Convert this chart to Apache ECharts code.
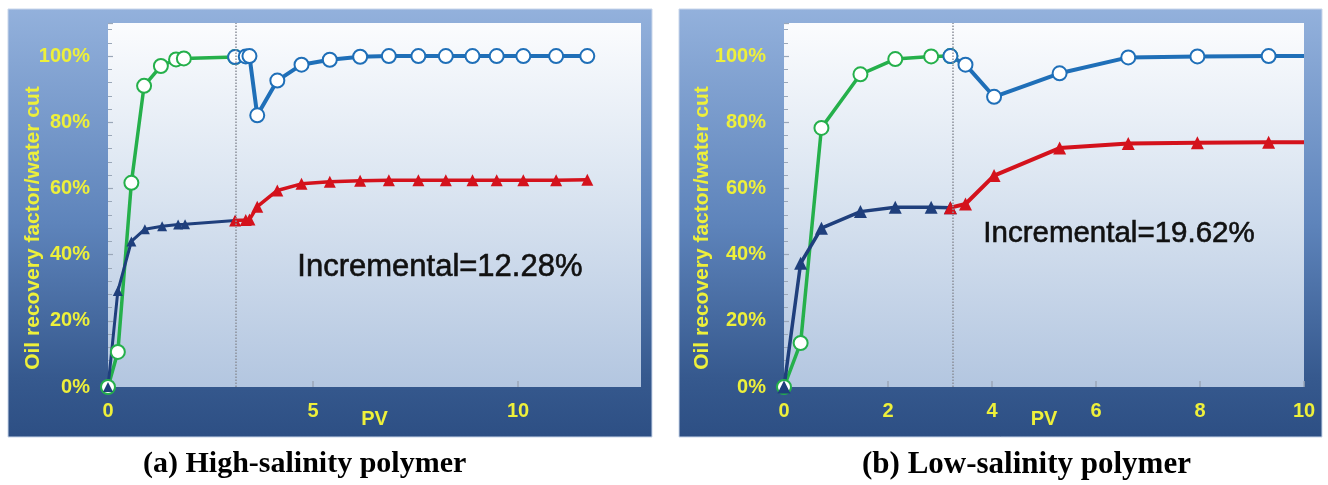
<!DOCTYPE html>
<html>
<head>
<meta charset="utf-8">
<script src="https://cdn.jsdelivr.net/npm/echarts@6/dist/echarts.min.js"></script>
<style>
html,body{margin:0;padding:0;background:#fff;}
#c{width:1328px;height:485px;}
</style>
</head>
<body>
<div id="c"></div>
<script>
// ---------- (a) High-salinity polymer ----------
const hsWaterX = [0, 0.24, 0.57, 0.88, 1.29, 1.66, 1.85, 3.10];
const hsWaterY = [0, 10.6, 61.7, 91.0, 97.0, 99.0, 99.3, 99.7];
const hsOilX   = [0, 0.24, 0.57, 0.90, 1.32, 1.71, 1.88, 3.10];
const hsOilY   = [0, 29.0, 44.0, 47.7, 48.6, 49.1, 49.2, 50.3];
const hsPolyX  = [3.10, 3.36, 3.45, 3.64, 4.13, 4.72, 5.41, 6.15, 6.85, 7.57, 8.24, 8.89, 9.48, 10.13, 10.93, 11.69];
const hsPolyWaterY = [99.7, 99.9, 100, 82.1, 92.6, 97.4, 98.9, 99.8, 100, 100, 100, 100, 100, 100, 100, 100];
const hsPolyOilY   = [50.3, 50.5, 50.6, 54.5, 59.4, 61.4, 62.0, 62.3, 62.5, 62.5, 62.5, 62.5, 62.5, 62.5, 62.5, 62.6];
const hsSwitchPV = 3.12;
const hsIncrement = 'Incremental=12.28%';

// ---------- (b) Low-salinity polymer ----------
const lsX      = [0, 0.32, 0.72, 1.47, 2.14, 2.83, 3.20];
const lsWaterY = [0, 13.3, 78.3, 94.5, 99.1, 99.9, 100];
const lsOilY   = [0, 37.4, 48.0, 53.0, 54.3, 54.3, 54.2];
const lsPolyX  = [3.20, 3.49, 4.04, 5.30, 6.62, 7.95, 9.32, 10];
const lsPolyWaterY = [100, 97.4, 87.7, 94.8, 99.6, 99.9, 100, 100];
const lsPolyOilY   = [54.2, 55.3, 63.9, 72.2, 73.6, 73.8, 74.0, 74.0];
const lsSwitchPV = 3.24;
const lsIncrement = 'Incremental=19.62%';

const captions = ['(a) High-salinity polymer', '(b) Low-salinity polymer'];
const yName = 'Oil recovery factor/water cut';
const xName = 'PV';

// ---------- styling ----------
const YEL = '#eef03a';
const GREEN = '#25b04b';
const BLUE = '#1f6fb8';
const NAVY = '#1f3f7c';
const RED = '#d4121c';

function pts(xs, ys, xmax) {
  return xs.map((x, i) => (x >= xmax ? {value: [x, ys[i]], symbol: 'none'} : [x, ys[i]]));
}
function lin(stops) {
  return new echarts.graphic.LinearGradient(0, 0, 0, 1, stops);
}
const plotBg = () => lin([{offset: 0, color: '#fbfcfe'}, {offset: 0.45, color: '#dbe5f1'}, {offset: 1, color: '#b3c6e0'}]);
const panelBg = () => lin([{offset: 0, color: '#93b1dc'}, {offset: 0.5, color: '#5e84bb'}, {offset: 0.86, color: '#36598e'}, {offset: 1, color: '#2d4f84'}]);

function xAxisOf(gi, max, interval) {
  return {
    type: 'value', gridIndex: gi, min: 0, max: max, interval: interval,
    name: xName, nameLocation: 'middle', nameGap: 22, nameMoveOverlap: false,
    nameTextStyle: {color: YEL, fontSize: 20, fontWeight: 'bold', fontFamily: 'Liberation Sans'},
    axisLine: {show: false},
    axisTick: {show: true, inside: true, length: 6, lineStyle: {color: '#9aa7b8', width: 1.5}},
    splitLine: {show: false},
    axisLabel: {color: YEL, fontSize: 20, fontWeight: 'bold', fontFamily: 'Liberation Sans', margin: 14, showMaxLabel: gi === 1}
  };
}
function yAxisOf(gi, gap) {
  return {
    type: 'value', gridIndex: gi, min: 0, max: 110, interval: 20,
    name: yName, nameLocation: 'middle', nameGap: gap, nameRotate: 90, nameMoveOverlap: false,
    nameTextStyle: {color: YEL, fontSize: 21, fontWeight: 'bold', fontFamily: 'Liberation Sans', padding: [0, 46, 0, 0]},
    axisLine: {show: false},
    axisTick: {show: true, inside: true, length: 5, lineStyle: {color: '#9aa7b8', width: 1.2}},
    minorTick: {show: true, splitNumber: 5, length: 4, lineStyle: {color: '#9aa7b8', width: 1}},
    splitLine: {show: false},
    axisLabel: {color: YEL, fontSize: 20, fontWeight: 'bold', fontFamily: 'Liberation Sans', margin: 18, formatter: '{value}%', showMaxLabel: false}
  };
}
function circleSeries(gi, data, color, lw, size) {
  return {
    type: 'line', xAxisIndex: gi, yAxisIndex: gi, data: data,
    symbol: 'circle', symbolSize: size, showAllSymbol: true,
    lineStyle: {color: color, width: lw},
    itemStyle: {color: '#ffffff', borderColor: color, borderWidth: 2},
    z: 3, animation: false
  };
}
function triSeries(gi, data, color, lw, size) {
  return {
    type: 'line', xAxisIndex: gi, yAxisIndex: gi, data: data,
    symbol: 'triangle', symbolSize: size, showAllSymbol: true,
    lineStyle: {color: color, width: lw},
    itemStyle: {color: color},
    z: 3, animation: false
  };
}
function switchLine(pv) {
  return {
    silent: true, symbol: 'none', label: {show: false},
    lineStyle: {color: '#8a8f99', type: 'dotted', width: 1.5},
    data: [{xAxis: pv}]
  };
}

const chart = echarts.init(document.getElementById('c'), null, {renderer: 'canvas'});

const hsWater = circleSeries(0, pts(hsWaterX, hsWaterY, 13), GREEN, 3.5, 14);
hsWater.markLine = switchLine(hsSwitchPV);
const lsWater = circleSeries(1, pts(lsX, lsWaterY, 10), GREEN, 3.5, 14);
lsWater.markLine = switchLine(lsSwitchPV);

chart.setOption({
  animation: false,
  grid: [
    {left: 108, top: 23, width: 533, height: 364, show: true, borderWidth: 0, backgroundColor: plotBg()},
    {left: 784, top: 23, width: 520, height: 364, show: true, borderWidth: 0, backgroundColor: plotBg()}
  ],
  xAxis: [xAxisOf(0, 13, 5), xAxisOf(1, 10, 2)],
  yAxis: [yAxisOf(0, 64), yAxisOf(1, 71)],
  graphic: [
    {type: 'rect', z: -10, shape: {x: 8, y: 9, width: 644, height: 428}, style: {fill: panelBg(), stroke: '#c9d6ea', lineWidth: 1}},
    {type: 'rect', z: -10, shape: {x: 679, y: 9, width: 643, height: 428}, style: {fill: panelBg(), stroke: '#c9d6ea', lineWidth: 1}},
    {type: 'text', z: 50, left: 297, top: 252, style: {text: hsIncrement, fill: '#111111', stroke: '#111111', lineWidth: 0.6, font: 'normal 31px "Liberation Sans"'}},
    {type: 'text', z: 50, left: 983, top: 219, style: {text: lsIncrement, fill: '#111111', stroke: '#111111', lineWidth: 0.6, font: 'normal 29.5px "Liberation Sans"'}},
    {type: 'text', z: 50, left: 143, top: 449, style: {text: captions[0], fill: '#000000', font: 'bold 30px "Liberation Serif"'}},
    {type: 'text', z: 50, left: 862, top: 449, style: {text: captions[1], fill: '#000000', font: 'bold 31px "Liberation Serif"'}}
  ],
  series: [
    hsWater,
    triSeries(0, pts(hsOilX, hsOilY, 13), NAVY, 3, 10),
    circleSeries(0, pts(hsPolyX, hsPolyWaterY, 13), BLUE, 4, 14),
    triSeries(0, pts(hsPolyX, hsPolyOilY, 13), RED, 3.5, 12),
    lsWater,
    triSeries(1, pts(lsX, lsOilY, 10), NAVY, 3.5, 13),
    circleSeries(1, pts(lsPolyX, lsPolyWaterY, 10), BLUE, 4, 14),
    triSeries(1, pts(lsPolyX, lsPolyOilY, 10), RED, 4, 13)
  ]
});
</script>
</body>
</html>
